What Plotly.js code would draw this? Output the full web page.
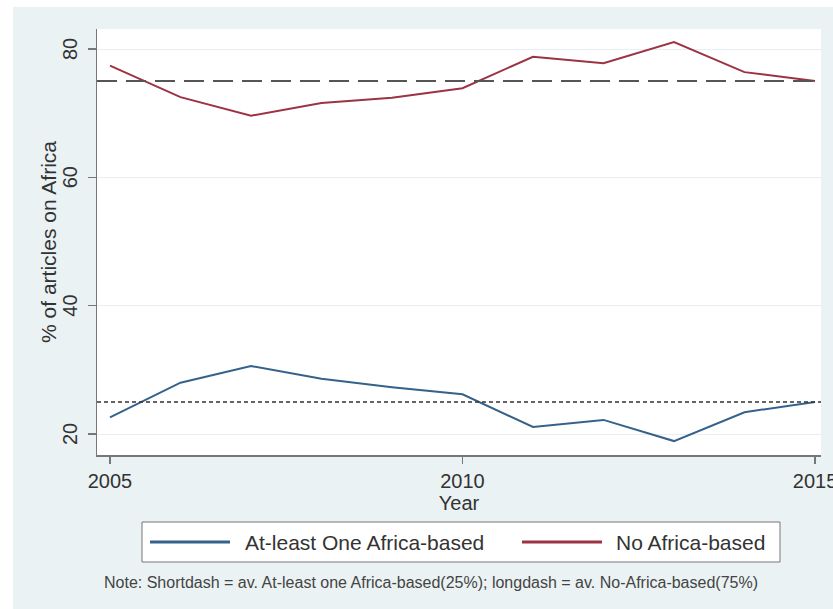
<!DOCTYPE html>
<html><head><meta charset="utf-8">
<script src="https://cdn.plot.ly/plotly-3.0.1.min.js"></script>
<style>
html,body{margin:0;padding:0;background:#ffffff;width:833px;height:609px;overflow:hidden}
#chart{position:absolute;left:13px;top:7px;width:820px;height:602px}
</style>
</head><body><div id="chart"></div>
<script>
// ---- data ----
const years = [2005, 2006, 2007, 2008, 2009, 2010, 2011, 2012, 2013, 2014, 2015];
const atLeastOneAfrica = [22.6, 28.0, 30.6, 28.6, 27.3, 26.2, 21.1, 22.2, 18.9, 23.4, 25.0];
const noAfrica = [77.4, 72.5, 69.6, 71.6, 72.4, 73.9, 78.8, 77.8, 81.1, 76.4, 75.0];
const avgAtLeastOne = 25;
const avgNoAfrica = 75;
const seriesNames = ['At-least One Africa-based', 'No Africa-based'];
const xTickVals = [2005, 2010, 2015];
const yTickVals = [20, 40, 60, 80];
const noteText = 'Note: Shortdash = av. At-least one Africa-based(25%); longdash = av. No-Africa-based(75%)';

// ---- layout helpers (page px -> paper coords of plot area) ----
const PL = 97, PR = 821, PT = 29, PB = 455;
const px = x => (x - PL) / (PR - PL);
const py = y => (PB - y) / (PB - PT);

const BLUE = '#35628a', RED = '#9c3343';
const FONT = 'Liberation Sans, Arial, sans-serif';
const TXT = '#333333';

const traces = [
  {x: years, y: atLeastOneAfrica, name: seriesNames[0], type: 'scatter', mode: 'lines',
   line: {color: BLUE, width: 2}},
  {x: years, y: noAfrica, name: seriesNames[1], type: 'scatter', mode: 'lines',
   line: {color: RED, width: 2}}
];

const shapes = [
  {type: 'line', xref: 'paper', x0: 0, x1: 1, yref: 'y', y0: avgNoAfrica, y1: avgNoAfrica,
   line: {color: '#555555', width: 2, dash: '20px,9px'}},
  {type: 'line', xref: 'paper', x0: 0, x1: 1, yref: 'y', y0: avgAtLeastOne, y1: avgAtLeastOne,
   line: {color: '#333333', width: 1.5, dash: '4px,3px'}},
  // legend box
  {type: 'rect', xref: 'paper', yref: 'paper', x0: px(142), x1: px(780), y0: py(562), y1: py(522),
   fillcolor: '#ffffff', line: {color: '#777777', width: 1}},
  {type: 'line', xref: 'paper', yref: 'paper', x0: px(150), x1: px(230), y0: py(542), y1: py(542),
   line: {color: BLUE, width: 3}},
  {type: 'line', xref: 'paper', yref: 'paper', x0: px(522), x1: px(602), y0: py(542), y1: py(542),
   line: {color: RED, width: 3}}
];

const annotations = [
  {xref: 'paper', yref: 'paper', x: px(243), y: py(542), xanchor: 'left', yanchor: 'middle',
   text: seriesNames[0], showarrow: false, font: {family: FONT, size: 21, color: TXT}},
  {xref: 'paper', yref: 'paper', x: px(614), y: py(542), xanchor: 'left', yanchor: 'middle',
   text: seriesNames[1], showarrow: false, font: {family: FONT, size: 21, color: TXT}},
  {xref: 'paper', yref: 'paper', x: px(431), y: py(582), xanchor: 'center', yanchor: 'middle',
   text: noteText, showarrow: false, font: {family: FONT, size: 16, color: '#444444'}}
];
// rotated y tick labels, placed on the y scale
yTickVals.forEach(v => annotations.push({
  xref: 'paper', yref: 'y', x: px(70), y: v, xanchor: 'center', yanchor: 'middle',
  text: String(v), textangle: -90, showarrow: false, font: {family: FONT, size: 20, color: TXT}
}));

const layout = {
  width: 820, height: 602,
  margin: {l: PL - 13, r: 833 - PR, t: PT - 7, b: 609 - PB, pad: 0},
  paper_bgcolor: '#eaf2f3',
  plot_bgcolor: '#ffffff',
  showlegend: false,
  font: {family: FONT, color: TXT},
  xaxis: {
    range: [2004.816, 2015.085], tickvals: xTickVals, ticktext: xTickVals.map(String),
    ticklabeloverflow: 'allow',
    showgrid: false, zeroline: false, showline: true, linecolor: '#777777', linewidth: 1.5,
    ticks: 'outside', ticklen: 7, tickcolor: '#777777', tickwidth: 1.5,
    tickfont: {family: FONT, size: 20, color: TXT},
    title: {text: 'Year', font: {family: FONT, size: 20, color: TXT}, standoff: 0}
  },
  yaxis: {
    range: [16.73, 83.12], tickmode: 'array', tickvals: yTickVals, showticklabels: false,
    showgrid: true, gridcolor: '#e8eff0', gridwidth: 1, zeroline: false,
    showline: true, linecolor: '#777777', linewidth: 1.5,
    ticks: 'outside', ticklen: 8, tickcolor: '#777777', tickwidth: 1.5,
    title: {text: '% of articles on Africa', font: {family: FONT, size: 21, color: TXT}, standoff: 25}
  },
  shapes: shapes,
  annotations: annotations
};

Plotly.newPlot('chart', traces, layout, {displayModeBar: false, staticPlot: true});
</script>
</body></html>
